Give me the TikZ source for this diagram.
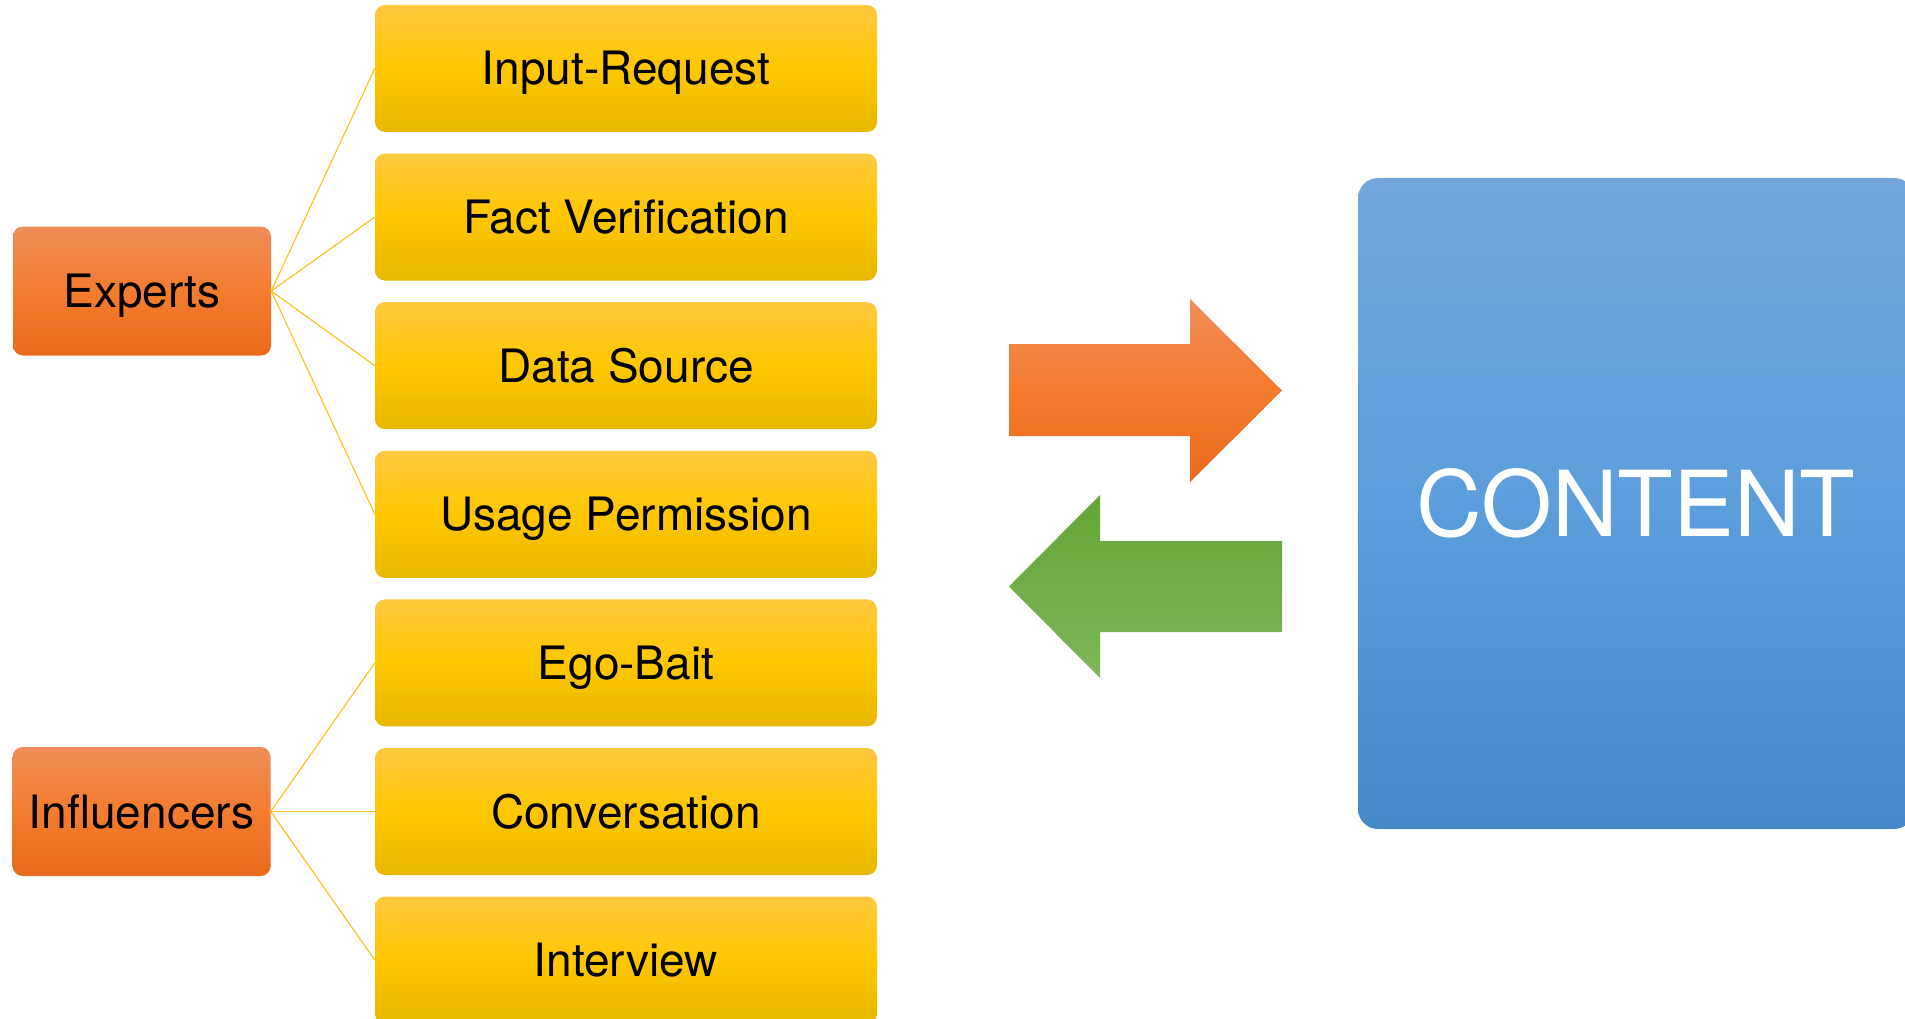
\documentclass[tikz,border=0pt]{standalone}
\usepackage{fontspec}
\setmainfont{TeX Gyre Heros}
\usepackage{xcolor}
\usetikzlibrary{positioning}

\definecolor{ytop}{HTML}{FFC940}
\definecolor{ymid}{HTML}{FFC700}
\definecolor{ybot}{HTML}{E6B800}
\definecolor{otop}{HTML}{F08D5A}
\definecolor{omid}{HTML}{F47C2E}
\definecolor{obot}{HTML}{E8691C}
\definecolor{btop}{HTML}{73A7DB}
\definecolor{bmid}{HTML}{5C9EDC}
\definecolor{bbot}{HTML}{4589C8}
\definecolor{gtop}{HTML}{63A536}
\definecolor{gbot}{HTML}{7DB75A}
\definecolor{ylink}{HTML}{F7C21A}

\begin{document}
\begin{tikzpicture}[
  x=1pt, y=-1pt,
  font=\fontsize{46}{50}\selectfont,
  node distance=21.2pt,
  ybox/.style={rounded corners=10pt, inner sep=0pt, minimum width=502pt, minimum height=127pt,
    text height=33pt, text depth=0pt, top color=ytop, bottom color=ybot, middle color=ymid},
  obox/.style={rounded corners=10pt, inner sep=0pt, minimum width=258pt, minimum height=129pt,
    text height=33pt, text depth=0pt, top color=otop, bottom color=obot, middle color=omid},
  cbox/.style={rounded corners=20pt, inner sep=0pt, minimum width=556pt, minimum height=651pt,
    text=white, font=\fontsize{91}{96}\selectfont, text height=66pt, text depth=0pt,
    top color=btop, bottom color=bbot, middle color=bmid},
  toarrow/.style={top color=otop, bottom color=obot, middle color=omid},
  backarrow/.style={top color=gtop, bottom color=gbot},
  link/.style={draw=ylink, line width=1.1pt}
]
  \useasboundingbox (0,0) rectangle (1905,1019);
  \clip (0,0) rectangle (1905,1019);

  % request types
  \node[ybox] (ir) at (626,68.5) {Input-Request};
  \node[ybox, below=of ir] (fv) {Fact Verification};
  \node[ybox, below=of fv] (ds) {Data Source};
  \node[ybox, below=of ds] (up) {Usage Permission};
  \node[ybox, below=of up] (eb) {Ego-Bait};
  \node[ybox, below=of eb] (cv) {Conversation};
  \node[ybox, below=of cv] (iv) {Interview};

  % who is asked
  \node[obox] (exp) at (142,291) {Experts};
  \node[obox, left=104pt of cv] (inf) {Influencers};

  \node[cbox] (content) at (1636,503.5) {CONTENT};

  \foreach \t in {ir,fv,ds,up} \draw[link] (exp.east) -- (\t.west);
  \foreach \t in {eb,cv,iv} \draw[link] (inf.east) -- (\t.west);

  % exchange arrows
  \path[toarrow] (1009,344) -- (1190,344) -- (1190,299) -- (1282,390.5)
    -- (1190,482) -- (1190,436) -- (1009,436) -- cycle;
  \path[backarrow] (1282,541) -- (1100,541) -- (1100,495) -- (1009,586.5)
    -- (1100,678) -- (1100,632) -- (1282,632) -- cycle;
\end{tikzpicture}
\end{document}
